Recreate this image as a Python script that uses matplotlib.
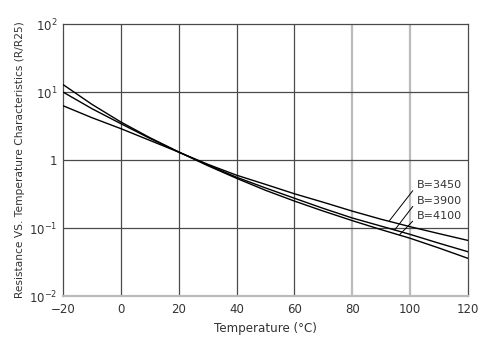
import matplotlib.pyplot as plt
from matplotlib.ticker import FixedLocator, FixedFormatter

# values (R/R25 at each temperature)
temps = [-20, -10, 0, 10, 20, 30, 40, 50, 60, 70, 80, 90, 100, 110, 120]
r_3450 = [6.3, 4.2, 2.9, 1.95, 1.31, 0.87, 0.60, 0.44, 0.32, 0.24,
          0.178, 0.135, 0.105, 0.083, 0.066]
r_3900 = [10.0, 5.7, 3.43, 2.09, 1.31, 0.85, 0.56, 0.39, 0.275, 0.195,
          0.141, 0.107, 0.081, 0.060, 0.045]
r_4100 = [12.9, 6.6, 3.63, 2.14, 1.32, 0.83, 0.54, 0.36, 0.25, 0.178,
          0.129, 0.095, 0.071, 0.051, 0.036]

labels = ["B=3450", "B=3900", "B=4100"]
x_ticks = [-20, 0, 20, 40, 60, 80, 100, 120]
x_ticklabels = ["\u221220", "0", "20", "40", "60", "80", "100", "120"]
y_ticks = [1e-2, 1e-1, 1, 1e1, 1e2]
y_ticklabels = ["$10^{-2}$", "$10^{-1}$", "1", "$10^{1}$", "$10^{2}$"]

plt.rcParams["font.family"] = "DejaVu Sans"
plt.rcParams["mathtext.default"] = "regular"

fig = plt.figure(figsize=(4.92, 3.53), dpi=100)
ax = fig.add_axes([0.128, 0.161, 0.823, 0.771])

ax.set_xlim(-20, 120)
ax.set_yscale("log")
ax.set_ylim(1e-2, 1e2)

# grid: dark lines, except 80 and 100 which are light gray in the original
dark = "#4a4a4a"
light = "#bbbbbb"
for x in x_ticks[1:-1]:
    if x in (80, 100):
        ax.axvline(x, color=light, lw=1.6, zorder=1)
    else:
        ax.axvline(x, color=dark, lw=0.9, zorder=1)
for y in y_ticks[1:-1]:
    ax.axhline(y, color=dark, lw=0.9, zorder=1)

for s in ("left", "top", "right"):
    ax.spines[s].set_color(dark)
    ax.spines[s].set_linewidth(0.9)
ax.spines["bottom"].set_color(light)
ax.spines["bottom"].set_linewidth(1.6)

for vals in (r_3450, r_3900, r_4100):
    ax.plot(temps, vals, color="black", lw=1.0, zorder=3)

ax.xaxis.set_major_locator(FixedLocator(x_ticks))
ax.xaxis.set_major_formatter(FixedFormatter(x_ticklabels))
ax.yaxis.set_major_locator(FixedLocator(y_ticks))
ax.yaxis.set_major_formatter(FixedFormatter(y_ticklabels))
ax.yaxis.set_minor_locator(FixedLocator([]))
ax.tick_params(length=0, labelsize=8.5, colors="#333333")
ax.tick_params(axis="x", pad=5)
ax.tick_params(axis="y", pad=4)

ax.set_xlabel("Temperature (\u00b0C)", fontsize=8.6, color="#333333", labelpad=4)
ax.set_ylabel("Resistance VS. Temperature Characteristics (R/R25)",
              fontsize=7.7, color="#333333", labelpad=3)

# leader-line labels
points = [(92.9, 0.129), (94.7, 0.094), (96.4, 0.080)]
text_pos = [(102.2, 0.43), (102.2, 0.253), (102.2, 0.149)]
for lab, xy, xt in zip(labels, points, text_pos):
    ax.annotate(lab, xy=xy, xytext=xt, fontsize=8, color="#333333",
                va="center", ha="left",
                arrowprops=dict(arrowstyle="-", color="black", lw=0.7,
                                shrinkA=1, shrinkB=0, relpos=(0, 0.4)),
                zorder=4)

fig.savefig("out.png", dpi=100)
